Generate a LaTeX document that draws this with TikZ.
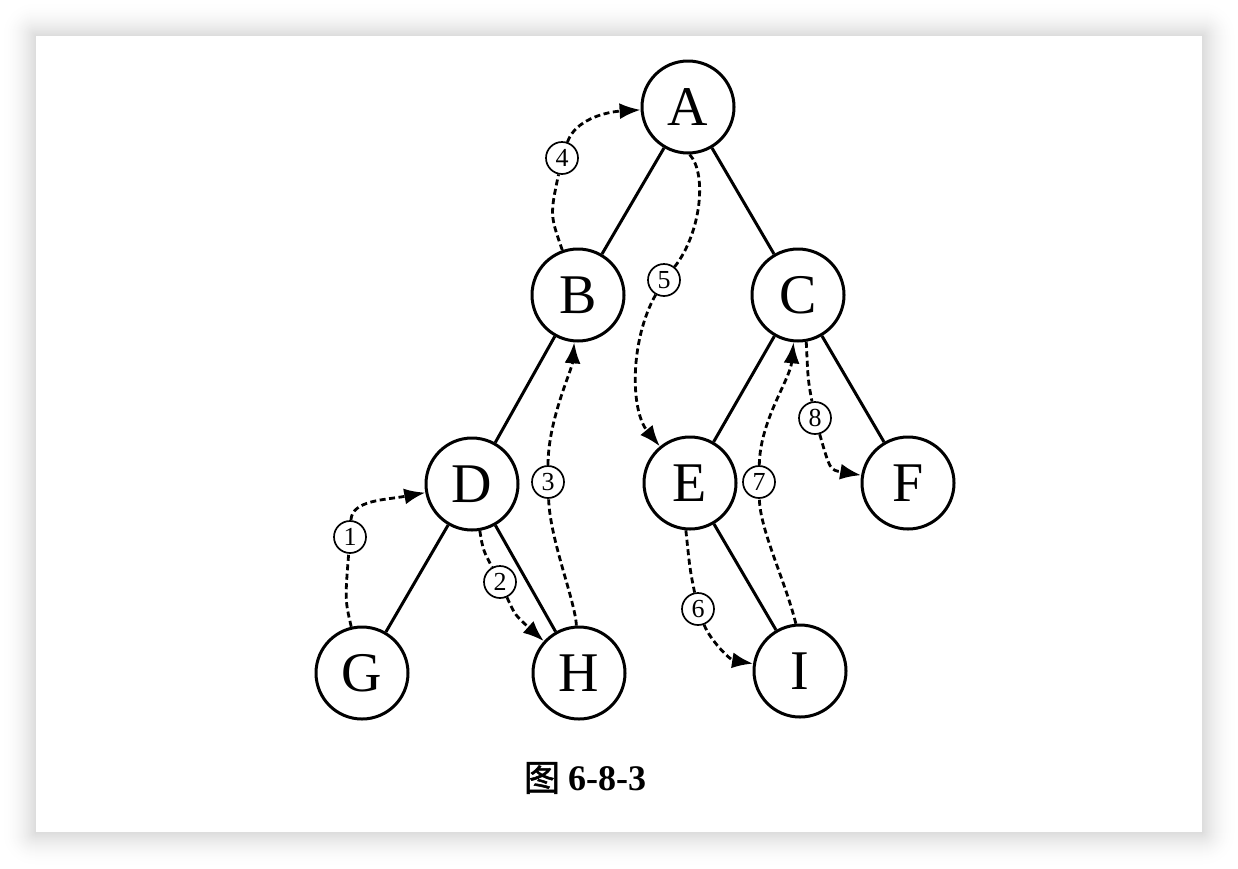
\documentclass[tikz,border=0pt]{standalone}
\usepackage{fontspec}
\setmainfont{Liberation Serif}
\newfontfamily\cjk{Noto Sans CJK SC}[FakeBold=1.5]
\usetikzlibrary{arrows.meta}
\begin{document}
\begin{tikzpicture}[x=1pt,y=-1pt,
  vtx/.style={circle,draw,line width=3pt,minimum size=92pt,inner sep=0pt,font=\fontsize{56}{56}\selectfont},
  edge/.style={line width=3pt},
  num/.style={circle,draw,line width=1.7pt,fill=white,minimum size=32pt,inner sep=0pt,font=\fontsize{26}{26}\selectfont},
  walk/.style={line width=2.8pt,dash pattern=on 6pt off 3.5pt},
  walkar/.style={walk,-{Latex[length=21pt,width=16pt]}}]
\useasboundingbox (0,0) rectangle (1238,868);
% shadow card
\fill[white] (0,0) rectangle (1238,868);
\foreach \d in {36,35,...,1}{
  \pgfmathsetmacro\g{14*(1-\d/36)^2}
  \fill[black!\g, rounded corners=\d pt] (36-\d,36-\d) rectangle (1202+\d,832+\d);
}
\fill[white] (36,36) rectangle (1202,832);
% vertices
\node[vtx] (A) at (688,107) {A};
\node[vtx] (B) at (578,295) {B};
\node[vtx] (C) at (798,295) {C};
\node[vtx] (D) at (472,484) {D};
\node[vtx] (E) at (690,483) {E};
\node[vtx] (F) at (908,483) {F};
\node[vtx] (G) at (362,673) {G};
\node[vtx] (H) at (579,673) {H};
\node[vtx] (I) at (800,671) {I};
% tree edges
\draw[edge] (A) -- (B);
\draw[edge] (A) -- (C);
\draw[edge] (B) -- (D);
\draw[edge] (C) -- (E);
\draw[edge] (C) -- (F);
\draw[edge] (D) -- (G);
\draw[edge] (D) -- (H);
\draw[edge] (E) -- (I);
% step labels
\node[num] (n1) at (350,537) {1};
\node[num] (n2) at (500,582) {2};
\node[num] (n3) at (548,482) {3};
\node[num] (n4) at (562,158) {4};
\node[num] (n5) at (664,280) {5};
\node[num] (n6) at (698,609) {6};
\node[num] (n7) at (759,482) {7};
\node[num] (n8) at (815,418) {8};
% walk
\draw[walk] (G) .. controls (345,600) .. (n1);
\draw[walkar] (n1) .. controls (352,500) and (385,500) .. (D);
\draw[walk] (D) .. controls (483,550) .. (n2);
\draw[walkar] (n2) .. controls (515,615) .. (H);
\draw[walk] (H) .. controls (575,600) and (550,540) .. (n3);
\draw[walkar] (n3) .. controls (548,420) and (572,370) .. (B);
\draw[walk] (B) .. controls (550,215) .. (n4);
\draw[walkar] (n4) .. controls (575,120) and (605,112) .. (A);
\draw[walk] (A.-88) .. controls (708,175) and (700,235) .. (n5);
\draw[walkar] (n5) .. controls (630,340) and (630,410) .. (E);
\draw[walk] (E.-95) .. controls (690,570) .. (n6);
\draw[walkar] (n6) .. controls (710,640) and (730,660) .. (I);
\draw[walk] (I.95) .. controls (785,580) and (760,530) .. (n7);
\draw[walkar] (n7) .. controls (760,420) and (790,380) .. (C);
\draw[walk] (C.-80) .. controls (808,380) .. (n8);
\draw[walkar] (n8) .. controls (830,470) .. (F);
% caption
\node (cap) at (585,778) {\fontsize{36}{36}\selectfont\cjk 图\ \bfseries\rmfamily 6-8-3};
\end{tikzpicture}
\end{document}
